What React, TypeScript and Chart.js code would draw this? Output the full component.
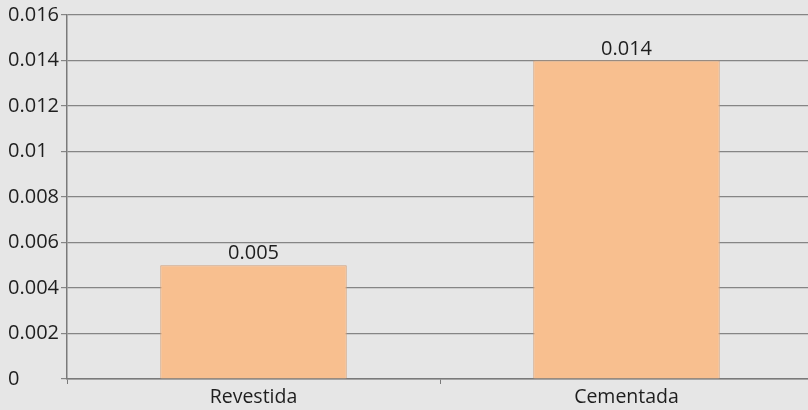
import React, { useEffect, useRef } from "react";
import { Chart, registerables } from "chart.js";

Chart.register(...registerables);

const categories = ["Revestida", "Cementada"];
const values = [0.005, 0.014];
const valueLabels = ["0.005", "0.014"];
const yMin = 0;
const yMax = 0.016;
const yStep = 0.002;

const FONT = "'Open Sans', 'Noto Sans', sans-serif";

const labelPlugin = {
  id: "barLabels",
  afterDatasetsDraw(chart: any) {
    const ctx = chart.ctx;
    const meta = chart.getDatasetMeta(0);
    ctx.save();
    ctx.font = `20px ${FONT}`;
    ctx.fillStyle = "#1e1e1e";
    ctx.textAlign = "center";
    ctx.textBaseline = "alphabetic";
    meta.data.forEach((el: any, i: number) => {
      ctx.fillText(valueLabels[i], el.x, el.y - 6);
    });
    ctx.restore();
  },
};

const bgPlugin = {
  id: "bg",
  beforeDraw(chart: any) {
    const ctx = chart.ctx;
    ctx.save();
    ctx.fillStyle = "#e6e6e6";
    ctx.fillRect(0, 0, chart.width, chart.height);
    ctx.restore();
  },
};

export default function App() {
  const ref = useRef<HTMLCanvasElement>(null);
  useEffect(() => {
    const chart = new Chart(ref.current!, {
      type: "bar",
      data: {
        labels: categories,
        datasets: [
          {
            data: values,
            backgroundColor: "#f8bf8f",
            borderColor: "#d2a07a",
            borderWidth: 1,
            barPercentage: 0.5,
            categoryPercentage: 1,
          },
        ],
      },
      options: {
        animation: false,
        responsive: false,
        layout: { padding: { top: 15, right: 0, left: 8, bottom: 0 } },
        plugins: { legend: { display: false }, tooltip: { enabled: false } },
        scales: {
          x: {
            grid: {
              drawOnChartArea: false,
              drawTicks: true,
              tickLength: 5,
              color: "#7a7a7a",
              offset: true,
            },
            border: { color: "#7a7a7a", width: 1.5 },
            ticks: { color: "#1e1e1e", font: { size: 19.5, family: FONT }, padding: 2 },
            afterFit(scale: any) {
              scale.height = 31;
            },
          },
          y: {
            min: yMin,
            max: yMax,
            grid: { color: "#858585", lineWidth: 1.2, tickLength: 6 },
            border: { color: "#7a7a7a", width: 1.5 },
            ticks: {
              stepSize: yStep,
              color: "#1e1e1e",
              font: { size: 20, family: FONT },
              padding: 1,
              crossAlign: "far",
              callback: (v: any) => String(parseFloat(Number(v).toFixed(3))),
            },
            afterFit(scale: any) {
              scale.width = 59;
            },
          },
        },
      },
      plugins: [bgPlugin, labelPlugin],
    });
    return () => chart.destroy();
  }, []);
  return (
    <div
      style={{
        position: "absolute",
        left: 0,
        top: 0,
        width: 808,
        height: 410,
        overflow: "hidden",
        background: "#e6e6e6",
      }}
    >
      <canvas ref={ref} width={813} height={410} style={{ display: "block" }} />
    </div>
  );
}
